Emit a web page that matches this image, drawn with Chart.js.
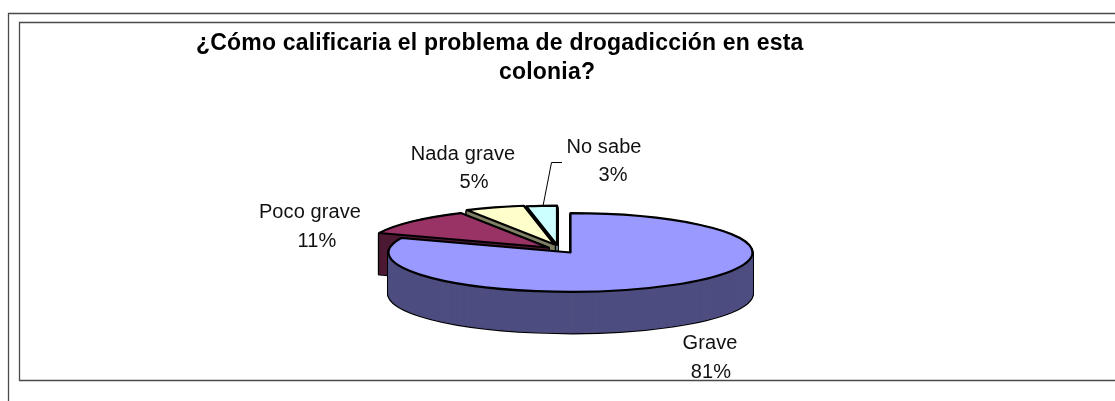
<!DOCTYPE html>
<html><head><meta charset="utf-8">
<style>html,body{margin:0;padding:0;background:#fff}canvas{display:block}</style>
<script src="https://cdn.jsdelivr.net/npm/chart.js@4"></script>
</head><body>
<canvas id="c" width="1115" height="401"></canvas>
<script>
const categories = ['Grave','Poco grave','Nada grave','No sabe'];
const values = [81,11,5.3,2.7];
const percentLabels = ['81%','11%','5%','3%'];
const titleLines = ['¿Cómo calificaria el problema de drogadicción en esta','colonia?'];

const topColors = ['#9999FF','#993366','#FFFFCC','#CCFFFF'];
const wallColors = ['#4D4D80','#4D1A33','#808066','#668080'];
const sliceShiftX = [14,-8,-2,0.5];
const sliceShiftY = [4.5,-0.5,-3.5,-3];
const pie = {cx:556.5, cy:248, radius:182, squash:0.216, depth:41};
const labelPos = [
  {x:710,y1:343,x2:711,y2:372},
  {x:310,y1:212,x2:317,y2:241},
  {x:463,y1:154,x2:474,y2:182},
  {x:604,y1:147,x2:613,y2:175}
];

function drawArc(ctx, arc, i, yShift, fill, stroke, width){
  const s=pie.squash;
  const orig=arc.options;
  ctx.save();
  ctx.translate(pie.cx+sliceShiftX[i], pie.cy+sliceShiftY[i]+yShift);
  ctx.scale(1,s);
  ctx.translate(-arc.x,-arc.y);
  arc.options=Object.assign(Object.create(orig),{backgroundColor:fill,borderColor:stroke,borderWidth:width,borderJoinStyle:'round',offset:0});
  const nativeStroke=ctx.stroke;
  ctx.stroke=function(){ctx.save();ctx.setTransform(1,0,0,1,0,0);nativeStroke.call(ctx);ctx.restore();};
  arc.draw(ctx);
  delete ctx.stroke;
  arc.options=orig;
  ctx.restore();
}

const pie3d={
  id:'pie3d',
  beforeDraw(chart){
    const ctx=chart.ctx;
    ctx.save();
    ctx.strokeStyle='#4a4a4a';ctx.lineWidth=1.3;
    ctx.beginPath();
    ctx.moveTo(1115,13.5);ctx.lineTo(8.5,13.5);ctx.lineTo(8.5,401);
    ctx.moveTo(1115,22.5);ctx.lineTo(19.5,22.5);ctx.lineTo(19.5,380.5);ctx.lineTo(1115,380.5);
    ctx.stroke();
    ctx.restore();
  },
  beforeDatasetDraw(chart,args){
    const ctx=chart.ctx, arcs=args.meta.data;
    [3,2,1,0].forEach(i=>{
      const a=arcs[i];
      for(let y=pie.depth;y>=1;y--) drawArc(ctx,a,i,y,'#000','#000',3);
      for(let y=pie.depth;y>=1;y--) drawArc(ctx,a,i,y,wallColors[i],wallColors[i],1);
      drawArc(ctx,a,i,0,topColors[i],'#000',2.2);
    });
    return false;
  },
  afterDraw(chart){
    const ctx=chart.ctx;
    ctx.save();
    ctx.fillStyle='#000';ctx.textBaseline='alphabetic';ctx.textAlign='left';
    ctx.font='bold 23px "Liberation Sans"';
    ctx.letterSpacing='0.2px';
    ctx.fillText(titleLines[0],196,50);
    ctx.fillText(titleLines[1],499,79);
    ctx.letterSpacing='0.1px';
    ctx.textBaseline='middle';ctx.textAlign='center';
    ctx.font='20px "Liberation Sans"';
    ctx.fillStyle='#111';
    categories.forEach((c,i)=>{
      const p=labelPos[i];
      ctx.fillText(c,p.x,p.y1);
      ctx.fillText(percentLabels[i],p.x2,p.y2);
    });
    ctx.strokeStyle='#000';ctx.lineWidth=1;
    ctx.beginPath();ctx.moveTo(543,206);ctx.lineTo(551.5,162.5);ctx.lineTo(562,162.5);ctx.stroke();
    ctx.restore();
  }
};

new Chart(document.getElementById('c'),{
  type:'pie',
  data:{labels:categories,datasets:[{data:values,backgroundColor:topColors,borderColor:'#000',borderWidth:2,clip:false}]},
  options:{responsive:false,animation:false,radius:pie.radius,
    plugins:{legend:{display:false},title:{display:false},tooltip:{enabled:false}}},
  plugins:[pie3d]
});
</script>
</body></html>
